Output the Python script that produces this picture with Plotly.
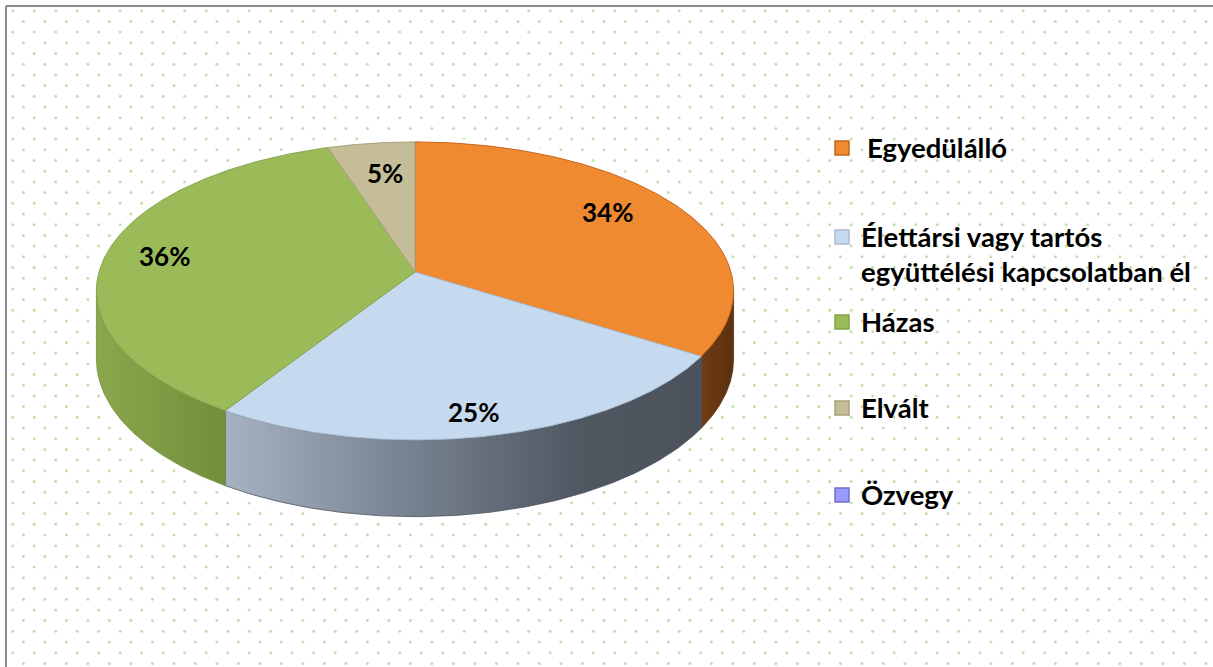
import numpy as np
import plotly.graph_objects as go

# ---------------- data ----------------
CATEGORIES = ["Egyedülálló", "Élettársi vagy tartós együttélési kapcsolatban él",
              "Házas", "Elvált", "Özvegy"]
LEGEND_LINES = [["Egyedülálló"], ["Élettársi vagy tartós", "együttélési kapcsolatban él"],
                ["Házas"], ["Elvált"], ["Özvegy"]]
VALUES = [34, 25, 36, 5, 0]

# ---------------- styles ----------------
TOP_COLORS = ["#f08a30", "#c5d9ef", "#9bbb59", "#c4bd97", "#9b9bff"]
EDGE_COLORS = ["#c8661c", "#a9bcd2", "#86a24a", "#a8a27e", "#6f6fc8"]
SIDE_SCALES = [
    [[0, "#6f3c14"], [1, "#5c300e"]],
    [[0, "#a6b2c2"], [0.35, "#7b8695"], [0.75, "#4f5761"], [1, "#4b525c"]],
    [[0, "#8aa84d"], [1, "#738d3b"]],
    [[0, "#a39d7a"], [1, "#8c8668"]],
    [[0, "#7777cc"], [1, "#5555aa"]],
]
LABEL_R = [0.775, 0.868, 0.812, 0.745, 0.7]     # label radius (fraction)
LABEL_DT = [5.0, -1.7, -0.4, -1.0, 0.0]         # label angle offset (deg)
FONT = "Lato"

W, H = 1213, 667
CX, CY = 415, 272       # projected centre of the pie
A, B = 316, 146.6       # horizontal / vertical radii scale
K = 0.127               # perspective factor
D = 67                  # thickness


def proj(r, t_deg, down=0.0):
    t = np.radians(t_deg)
    u = r * np.cos(t)
    v = r * np.sin(t)
    w = 1 + K * v
    x = CX + A * u / w
    y = CY - B * v / w + down / w
    return x, y


fig = go.Figure()

# background dot pattern
dx, dy = 21.5, 10.7
xs, ys = [], []
for j, yy in enumerate(np.arange(10.7, H + 5, dy)):
    off = 12.7 if j % 2 == 0 else 23.4
    for xx in np.arange(off, W - 2, dx):
        if xx > 8 and yy > 8:
            xs.append(xx)
            ys.append(yy)
fig.add_trace(go.Scatter(x=xs, y=ys, mode="markers",
                         marker=dict(size=3, color="#c9ddaa", line=dict(width=0)),
                         hoverinfo="skip", showlegend=False))

# white halo around the pie silhouette
t_vis = np.degrees(np.arcsin(K))  # tangent points
back = np.linspace(-t_vis, 180 + t_vis, 200)
front = np.linspace(180 + t_vis, 360 - t_vis, 200)
hx, hy = proj(1, back)
bx, by = proj(1, front, D)
fig.add_trace(go.Scatter(x=np.concatenate([hx, bx]), y=np.concatenate([hy, by]),
                         mode="lines", fill="toself", fillcolor="white",
                         line=dict(color="white", width=10),
                         hoverinfo="skip", showlegend=False))

# slices
total = sum(VALUES)
starts, ends = [], []
t = 90.0
for v in VALUES:
    span = 360.0 * v / total
    starts.append(t)
    ends.append(t - span)
    t -= span

vis_hi, vis_lo = -t_vis, -180 + t_vis  # visible front range (continuous frame)

# side faces
for i, v in enumerate(VALUES):
    if v <= 0:
        continue
    a = min(starts[i], vis_hi)
    b = max(ends[i], vis_lo)
    if a <= b:
        continue
    ts = np.linspace(a, b, 120)
    tx, ty = proj(1, ts)
    bx, by = proj(1, ts[::-1], D)
    fig.add_trace(go.Scatter(
        x=np.concatenate([tx, bx, tx[:1]]), y=np.concatenate([ty, by, ty[:1]]),
        mode="lines", fill="toself",
        fillgradient=dict(type="horizontal", colorscale=SIDE_SCALES[i]),
        line=dict(color=SIDE_SCALES[i][-1][1], width=0.8),
        hoverinfo="skip", showlegend=False))

# top faces
for i, v in enumerate(VALUES):
    if v <= 0:
        continue
    ts = np.linspace(starts[i], ends[i], 200)
    ax, ay = proj(1, ts)
    x = np.concatenate([[CX], ax, [CX]])
    y = np.concatenate([[CY], ay, [CY]])
    fig.add_trace(go.Scatter(x=x, y=y, mode="lines", fill="toself",
                             fillcolor=TOP_COLORS[i],
                             line=dict(color=EDGE_COLORS[i], width=1),
                             name=CATEGORIES[i], hoverinfo="skip", showlegend=False))

# percentage labels
for i, v in enumerate(VALUES):
    if v <= 0:
        continue
    mid = (starts[i] + ends[i]) / 2 + LABEL_DT[i]
    lx, ly = proj(LABEL_R[i], mid)
    fig.add_annotation(x=lx, y=ly, text=f"<b>{v}%</b>", showarrow=False,
                       font=dict(family=FONT, size=26, color="black"),
                       xanchor="center", yanchor="middle")

# legend (markers + text)
LEG_X_MARK = 842
LEG_X_TEXT = 859
LEG_Y = [148, 237, 322, 408, 495]
LINE_GAP = 35
fig.add_trace(go.Scatter(x=[LEG_X_MARK] * len(CATEGORIES), y=LEG_Y, mode="markers",
                         marker=dict(symbol="square", size=14, color=TOP_COLORS,
                                     line=dict(color=EDGE_COLORS, width=1.5)),
                         hoverinfo="skip", showlegend=False))
for i, lines in enumerate(LEGEND_LINES):
    for k, line in enumerate(lines):
        fig.add_annotation(x=LEG_X_TEXT, y=LEG_Y[i] + k * LINE_GAP - 1,
                           xshift=6 if i == 0 else 0,
                           text=f"<b>{line}</b>", showarrow=False,
                           font=dict(family=FONT, size=27.5, color="black"),
                           xanchor="left", yanchor="middle")

# chart border (top and left)
fig.add_shape(type="line", x0=6, x1=W, y0=6, y1=6, line=dict(color="#8c8c8c", width=2))
fig.add_shape(type="line", x0=6, x1=6, y0=6, y1=H, line=dict(color="#8c8c8c", width=2))

fig.update_layout(
    width=W, height=H,
    margin=dict(l=0, r=0, t=0, b=0),
    paper_bgcolor="white", plot_bgcolor="white",
    xaxis=dict(range=[0, W], visible=False, fixedrange=True, showspikes=False,
               showline=False, zeroline=False, showgrid=False),
    yaxis=dict(range=[H, 0], visible=False, fixedrange=True, showspikes=False,
               showline=False, zeroline=False, showgrid=False),
    showlegend=False,
    hovermode=False,
)

fig.write_html("out.html",
               config={"displayModeBar": False, "staticPlot": True},
               post_script="document.body.style.margin='0px';document.body.style.overflow='hidden';"
                           "document.documentElement.style.overflow='hidden';")
